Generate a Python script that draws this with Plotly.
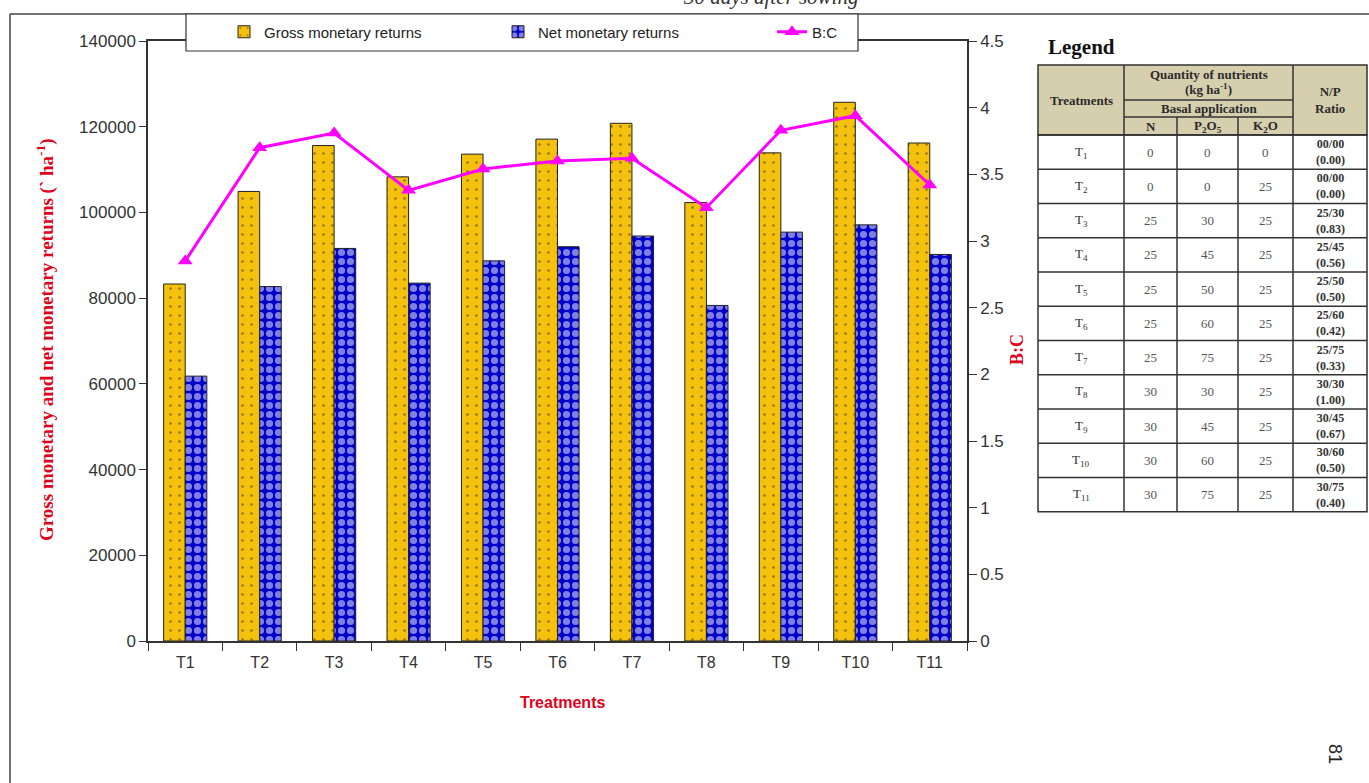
import plotly.graph_objects as go

# ---- chart data ----
treatments = ["T1", "T2", "T3", "T4", "T5", "T6", "T7", "T8", "T9", "T10", "T11"]
gross_returns = [83300, 104900, 115600, 108300, 113600, 117100, 120800, 102300, 113900, 125700, 116200]
net_returns = [61800, 82700, 91600, 83500, 88700, 92000, 94500, 78300, 95400, 97100, 90200]
bc_ratio = [2.85, 3.70, 3.81, 3.38, 3.54, 3.60, 3.62, 3.25, 3.83, 3.94, 3.42]

# ---- legend table data ----
table_rows = ["T<sub>1</sub>", "T<sub>2</sub>", "T<sub>3</sub>", "T<sub>4</sub>", "T<sub>5</sub>",
              "T<sub>6</sub>", "T<sub>7</sub>", "T<sub>8</sub>", "T<sub>9</sub>", "T<sub>10</sub>", "T<sub>11</sub>"]
dose_n = [0, 0, 25, 25, 25, 25, 25, 30, 30, 30, 30]
dose_p = [0, 0, 30, 45, 50, 60, 75, 30, 45, 60, 75]
dose_k = [0, 25, 25, 25, 25, 25, 25, 25, 25, 25, 25]
np_ratio = ["00/00<br>(0.00)", "00/00<br>(0.00)", "25/30<br>(0.83)", "25/45<br>(0.56)",
            "25/50<br>(0.50)", "25/60<br>(0.42)", "25/75<br>(0.33)", "30/30<br>(1.00)",
            "30/45<br>(0.67)", "30/60<br>(0.50)", "30/75<br>(0.40)"]

W, H = 1369, 783
ML, MR, MT, MB = 148, 402, 41, 142
PW, PH = W - ML - MR, H - MT - MB

def px(x):
    return (x - ML) / PW

def py(y):
    return (H - MB - y) / PH

SANS = "Liberation Sans, Arial, sans-serif"
SERIF = "Liberation Serif, Times New Roman, serif"
RED = "#E0001B"
AXC = "#333333"

fig = go.Figure()

fig.add_trace(go.Bar(
    x=treatments, y=gross_returns, name="Gross monetary returns",
    marker=dict(color="#F4C20D", line=dict(color="#222222", width=1),
                pattern=dict(shape=".", fgcolor="#2a1e00", bgcolor="#F4C20D",
                             size=9, solidity=0.06)),
))
fig.add_trace(go.Bar(
    x=treatments, y=net_returns, name="Net monetary returns",
    marker=dict(color="#0000C8", line=dict(color="#222222", width=1),
                pattern=dict(shape=".", fgcolor="#FFFFFF", bgcolor="#0000C8",
                             size=9, solidity=0.5)),
))
fig.add_trace(go.Scatter(
    x=treatments, y=bc_ratio, name="B:C", yaxis="y2", mode="lines+markers",
    line=dict(color="#FF00FF", width=3),
    marker=dict(symbol="triangle-up", size=13, color="#FF00FF"),
))

fig.update_layout(
    width=W, height=H,
    margin=dict(l=ML, r=MR, t=MT, b=MB),
    paper_bgcolor="white", plot_bgcolor="white",
    barmode="group", bargap=0.42, bargroupgap=0,
    font=dict(family=SANS, size=16, color=AXC),
    showlegend=True,
    legend=dict(orientation="h", x=px(224), y=py(32), xanchor="left", yanchor="middle",
                bgcolor="rgba(0,0,0,0)", borderwidth=0,
                font=dict(family=SANS, size=15, color="#222222"),
                entrywidth=229, entrywidthmode="pixels", traceorder="normal"),
    xaxis=dict(range=[-0.5, 10.5], showline=True, linecolor=AXC, linewidth=1.5, mirror=True,
               ticks="outside", ticklen=8, tickcolor=AXC, tickson="boundaries",
               ticklabelstandoff=6,
               showgrid=False, tickfont=dict(family=SANS, size=16, color=AXC)),
    yaxis=dict(range=[0, 140000], dtick=20000, tickformat="d", showline=True,
               linecolor=AXC, linewidth=1.5, ticks="outside", ticklen=7, tickcolor=AXC,
               showgrid=False, zeroline=False,
               tickfont=dict(family=SANS, size=17, color=AXC)),
    yaxis2=dict(range=[0, 4.5], dtick=0.5, overlaying="y", side="right", showline=True,
                linecolor=AXC, linewidth=1.5, ticks="outside", ticklen=8, tickcolor=AXC,
                showgrid=False, zeroline=False,
                tickfont=dict(family=SANS, size=17, color=AXC)),
)

shapes = []
annotations = []

def line(x0, y0, x1, y1, color="#333333", width=1.5):
    shapes.append(dict(type="line", xref="paper", yref="paper",
                       x0=px(x0), y0=py(y0), x1=px(x1), y1=py(y1),
                       line=dict(color=color, width=width), layer="above"))

def rect(x0, y0, x1, y1, fill, color="#333333", width=1.5):
    shapes.append(dict(type="rect", xref="paper", yref="paper",
                       x0=px(x0), y0=py(y0), x1=px(x1), y1=py(y1),
                       fillcolor=fill, line=dict(color=color, width=width), layer="above"))

def text(x, y, s, size=12, family=SERIF, color="#222222", angle=0, bold=False, italic=False):
    if bold:
        s = "<b>" + s + "</b>"
    if italic:
        s = "<i>" + s + "</i>"
    annotations.append(dict(xref="paper", yref="paper", x=px(x), y=py(y), text=s,
                            showarrow=False, textangle=angle, xanchor="center", yanchor="middle",
                            font=dict(family=family, size=size, color=color)))

# page frame
line(10, 14, W, 14, color="#444444", width=1.5)
line(10, 14, 10, H, color="#444444", width=1.5)

# legend box behind the legend entries
shapes.append(dict(type="rect", xref="paper", yref="paper",
                   x0=px(186), y0=py(14), x1=px(858), y1=py(51),
                   fillcolor="white", line=dict(color="#333333", width=1.2), layer="above"))

# axis titles
text(45, 340, "Gross monetary and net monetary returns (` ha<sup>-1</sup>)", size=19,
     color=RED, angle=-90, bold=True)
text(1017, 350, "B:C", size=18, color=RED, angle=-90, bold=True)
text(562, 702, "Treatments", size=16, family=SANS, color=RED, bold=True)

# running header and page number
text(770, -3, "30 days after sowing", size=21, italic=True, color="#333333")
text(1335, 754, "81", size=18, family=SANS, color="#222222", angle=90)

# ---- nutrient legend table ----
cols = [1038, 1124, 1177, 1238, 1293, 1367]
h_top, h_q, h_b, h_bot = 65, 100, 117, 135
row_h = (511.7 - h_bot) / len(table_rows)
t_bot = h_bot + row_h * len(table_rows)

text(1081, 47, "Legend", size=21, bold=True, color="#111111")

rect(cols[0], h_top, cols[-1], h_bot, "#D6CFAE")
rect(cols[0], h_bot, cols[-1], t_bot, "white")
for xv in (cols[1], cols[4]):
    line(xv, h_top, xv, t_bot)
for xv in (cols[2], cols[3]):
    line(xv, h_b, xv, t_bot)
line(cols[1], h_q, cols[4], h_q)
line(cols[1], h_b, cols[4], h_b)
for i in range(len(table_rows)):
    yv = h_bot + row_h * i
    line(cols[0], yv, cols[-1], yv)

hc = "#2b2b2b"
text((cols[0] + cols[1]) / 2, (h_top + h_bot) / 2, "Treatments", size=13, bold=True, color=hc)
text((cols[1] + cols[4]) / 2, 74, "Quantity of nutrients", size=13, bold=True, color=hc)
text((cols[1] + cols[4]) / 2, 89, "(kg ha<sup>-1</sup>)", size=13, bold=True, color=hc)
text((cols[1] + cols[4]) / 2, 108.5, "Basal application", size=13, bold=True, color=hc)
text((cols[1] + cols[2]) / 2, 126, "N", size=13, bold=True, color=hc)
text((cols[2] + cols[3]) / 2, 126, "P<sub>2</sub>O<sub>5</sub>", size=13, bold=True, color=hc)
text((cols[3] + cols[4]) / 2, 126, "K<sub>2</sub>O", size=13, bold=True, color=hc)
text((cols[4] + cols[5]) / 2, (h_top + h_bot) / 2, "N/P<br>Ratio", size=13, bold=True, color=hc)

vc = "#555555"
for i, name in enumerate(table_rows):
    yc = h_bot + row_h * (i + 0.5)
    text((cols[0] + cols[1]) / 2, yc, name, size=13, color="#333333")
    text((cols[1] + cols[2]) / 2, yc, str(dose_n[i]), size=13, color=vc)
    text((cols[2] + cols[3]) / 2, yc, str(dose_p[i]), size=13, color=vc)
    text((cols[3] + cols[4]) / 2, yc, str(dose_k[i]), size=13, color=vc)
    text((cols[4] + cols[5]) / 2, yc, np_ratio[i], size=12, bold=True, color="#333333")

fig.update_layout(shapes=shapes, annotations=annotations)

fig.write_html("out.html")
